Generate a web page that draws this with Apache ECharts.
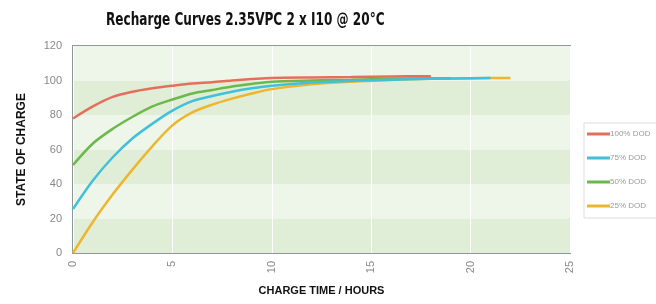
<!DOCTYPE html>
<html>
<head>
<meta charset="utf-8">
<script src="https://cdn.jsdelivr.net/npm/echarts@6/dist/echarts.min.js"></script>
<style>
html,body{margin:0;padding:0;background:#fff;}
#main{width:656px;height:304px;}
</style>
</head>
<body>
<div id="main"></div>
<script>
var chartTitle='Recharge Curves 2.35VPC 2 x I10 @ 20°C';

// series names, as in the legend
var seriesNames=['100% DOD','75% DOD','50% DOD','25% DOD'];

// hours and state of charge
var hours100=[0,1,2,3,4,5,6,7,8,9,10,12,14,16,18];
var soc100=[78,85,90.5,93.5,95.5,97,98.3,99,100,100.8,101.5,101.8,102,102.3,102.5];

var hours75=[0,1,2,3,4,5,6,7,8,9,10,12,14,16,18,21];
var soc75=[25.5,42,55.5,66.5,75,82.5,88,91,93.5,95.5,97,98.8,99.8,100.5,101,101.5];

var hours50=[0,1,2,3,4,5,6,7,8,9,10,12,14,16,19];
var soc50=[51,63.5,72,79,85,89,92.5,94.5,96.5,98,99.3,100,100.5,101,101.3];

var hours25=[0,1,2,3,4,5,6,7,8,9,10,12,14,16,18,20,22];
var soc25=[0,18,34,48.5,62,74,81.5,86,89.5,92.5,95,97.8,99.3,100.3,101,101.3,101.5];

var lineColors=['#e4705c','#41c0da','#6cb84a','#eeb62e'];

function pairs(xs,ys){
    var out=[];
    for(var i=0;i<xs.length;i++){
        out.push([xs[i],ys[i]]);
    }
    return out;
}

var allData=[pairs(hours100,soc100),pairs(hours75,soc75),pairs(hours50,soc50),pairs(hours25,soc25)];
var zOrder=[5,4,3,2];

var series=[];
for(var i=0;i<seriesNames.length;i++){
    series.push({
        name:seriesNames[i],
        type:'line',
        data:allData[i],
        showSymbol:false,
        smooth:0.3,
        z:zOrder[i],
        itemStyle:{color:lineColors[i]},
        lineStyle:{width:2.5,color:lineColors[i]}
    });
}

var chart=echarts.init(document.getElementById('main'));
chart.setOption({
    animation:false,
    // title drawn as graphic text so it can be squeezed like the condensed original
    graphic:[{
        type:'text',
        x:106,
        y:12,
        scaleX:0.79,
        style:{
            text:chartTitle,
            fontFamily:'DejaVu Sans Condensed, Liberation Sans, sans-serif',
            fontSize:17,
            fontWeight:'bold',
            fill:'#111',
            verticalAlign:'top'
        }
    }],
    legend:{
        orient:'vertical',
        left:584,
        top:123,
        padding:[7,30,8,3],
        itemGap:16,
        itemWidth:23,
        itemHeight:3,
        icon:'rect',
        borderColor:'#dddddd',
        borderWidth:1,
        data:seriesNames,
        textStyle:{fontSize:8,color:'#999',padding:[0,0,0,-5]}
    },
    grid:{
        left:73,right:86,top:46,bottom:51,
        show:true,
        borderColor:'#8e979b',
        borderWidth:2,
        backgroundColor:'transparent'
    },
    xAxis:{
        type:'value',
        min:0,max:25,interval:5,
        name:'CHARGE TIME / HOURS',
        nameLocation:'middle',
        nameGap:32,
        nameTextStyle:{fontSize:11,fontWeight:'bold',color:'#111'},
        axisLine:{show:false},
        axisTick:{show:false},
        axisLabel:{rotate:90,color:'#888',fontSize:11,margin:8},
        splitLine:{show:true,lineStyle:{color:'#ffffff',width:1}}
    },
    yAxis:{
        type:'value',
        min:0,max:120,interval:20,
        name:'STATE OF CHARGE',
        nameLocation:'middle',
        nameGap:45,
        nameTextStyle:{fontSize:12,fontWeight:'bold',color:'#111'},
        axisLine:{show:false},
        axisTick:{show:false},
        axisLabel:{color:'#888',fontSize:11,margin:11},
        splitLine:{show:false},
        splitArea:{show:true,areaStyle:{color:['#e1eed7','#eef5e9']}}
    },
    series:series
});
</script>
</body>
</html>
